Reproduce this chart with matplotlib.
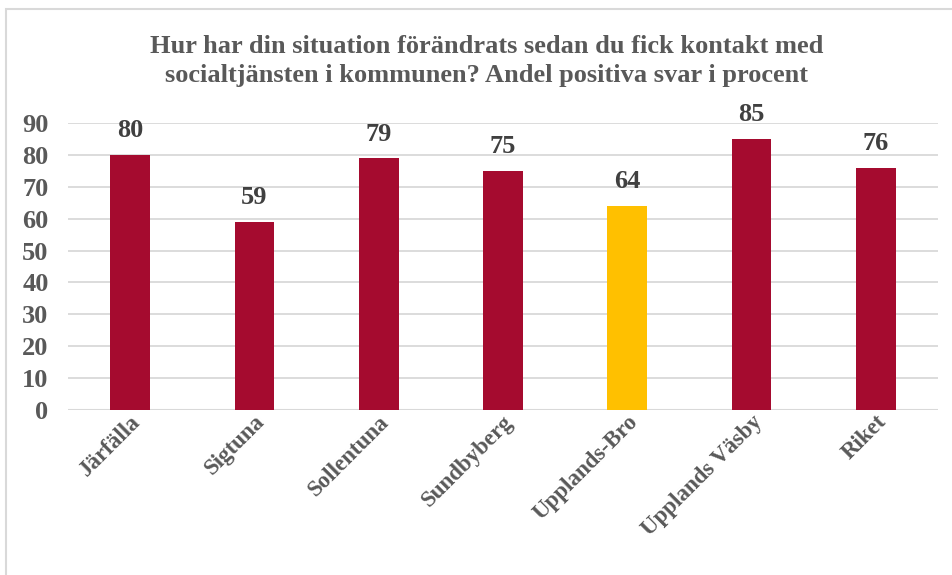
import matplotlib.pyplot as plt
from matplotlib.patches import Rectangle

# --- Data ---
kommuner = ["Järfälla", "Sigtuna", "Sollentuna", "Sundbyberg",
            "Upplands-Bro", "Upplands Väsby", "Riket"]
andel_positiva = [80, 59, 79, 75, 64, 85, 76]
markerad = "Upplands-Bro"

titel = ("Hur har din situation förändrats sedan du fick kontakt med\n"
         "socialtjänsten i kommunen? Andel positiva svar i procent")

RED = "#A50B2F"
YELLOW = "#FFC000"
TEXT = "#595959"
GRID = "#D9D9D9"

plt.rcParams["font.family"] = ["Liberation Serif", "DejaVu Serif"]

fig = plt.figure(figsize=(9.53, 5.75), dpi=100)
W, H = 953, 575

# chart frame
fig.patches.append(Rectangle((6 / W, -0.05), 1.0, 1 - 9 / H + 0.05,
                             transform=fig.transFigure, fill=False,
                             edgecolor=GRID, linewidth=1.5))

ax = fig.add_axes([68 / W, 1 - 410 / H, (938 - 68) / W, (410 - 123) / H])

colors = [YELLOW if k == markerad else RED for k in kommuner]
x = range(len(kommuner))
bars = ax.bar(x, andel_positiva, width=0.32, color=colors, zorder=3)

for rect, v in zip(bars, andel_positiva):
    ax.annotate(f"{v}", (rect.get_x() + rect.get_width() / 2, v),
                xytext=(0, 9), textcoords="offset points",
                ha="center", va="bottom", fontsize=19, fontweight="bold",
                color="#404040")

ax.set_xlim(-0.5, len(kommuner) - 0.5)
ax.set_ylim(0, 90)
ax.set_yticks(range(0, 91, 10))
ax.yaxis.grid(True, color=GRID, linewidth=1.3, zorder=0)
for s in ax.spines.values():
    s.set_visible(False)
ax.axhline(0, color=GRID, linewidth=1.5, zorder=2)

ax.tick_params(axis="both", length=0, colors=TEXT)
ax.tick_params(axis="y", labelsize=19, pad=14)
ax.tick_params(axis="x", labelsize=16.5, pad=1)
for lbl in ax.get_yticklabels():
    lbl.set_fontweight("bold")

ax.set_xticks(list(x))
ax.set_xticklabels(kommuner, rotation=45, ha="right", rotation_mode="anchor",
                   fontweight="bold", color=TEXT)

fig.text(487 / W, 1 - 61 / H, titel, ha="center", va="center",
         fontsize=19, fontweight="bold", color=TEXT, linespacing=1.35)

fig.savefig("out.png", dpi=100)
